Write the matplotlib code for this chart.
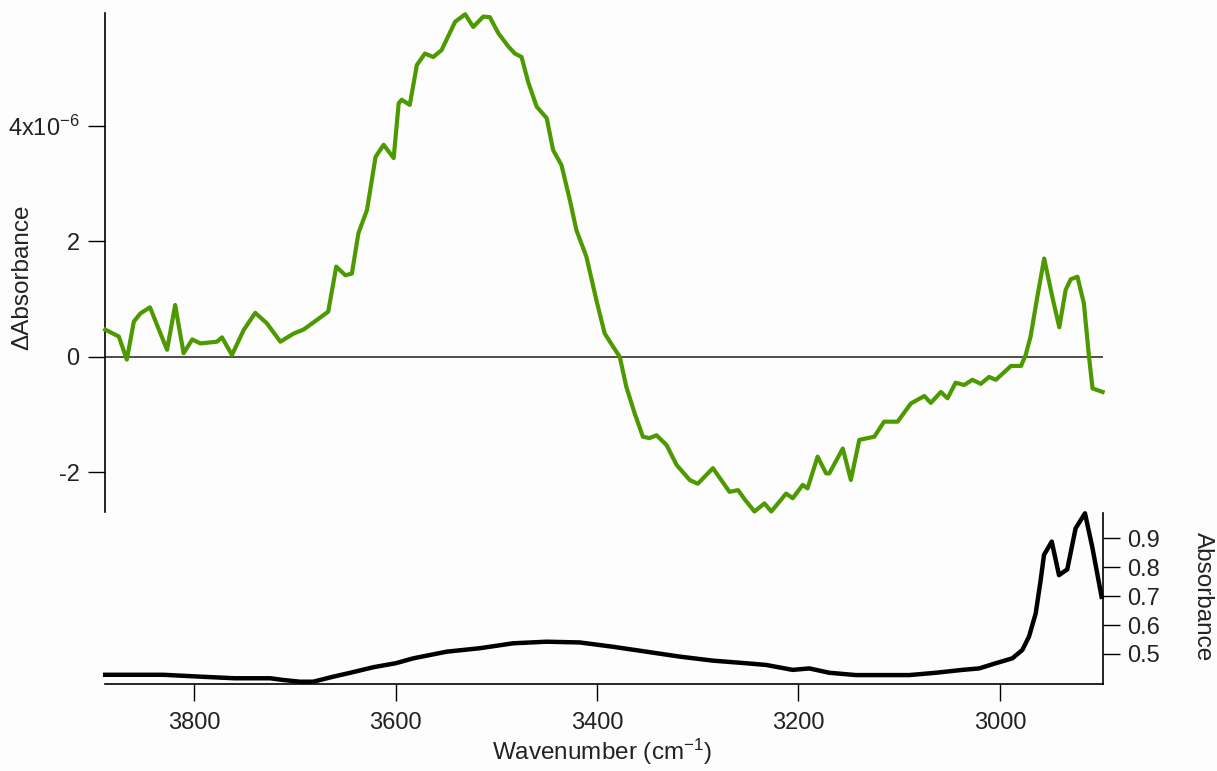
import numpy as np
import matplotlib
matplotlib.use("Agg")
import matplotlib.pyplot as plt
from matplotlib.ticker import FixedLocator, FixedFormatter

plt.rcParams['font.family'] = ['Liberation Sans', 'DejaVu Sans']
plt.rcParams['mathtext.fontset'] = 'custom'
plt.rcParams['mathtext.rm'] = 'Liberation Sans'
plt.rcParams['mathtext.default'] = 'regular'

# difference spectrum (top), values in units of 1e-6
wn_diff = [3888.5, 3875, 3867, 3860, 3853.5, 3844, 3837, 3827, 3819, 3810.6,
           3802, 3794, 3777.5, 3772.5, 3762.6, 3751, 3739.5, 3728, 3714.5, 3701.5,
           3691.5, 3678, 3667, 3659, 3650, 3643.5, 3637, 3628.5, 3620, 3612,
           3602, 3597, 3594, 3586, 3579, 3571, 3562.7, 3554.4, 3541, 3531,
           3523, 3513, 3506.5, 3498, 3488, 3481.7, 3475, 3468.5, 3460, 3450,
           3443.7, 3435.4, 3427, 3420.5, 3410.6, 3400.7, 3392.5, 3384, 3377.5, 3371,
           3362.7, 3354.5, 3348, 3341, 3331, 3321, 3308, 3300, 3285, 3268.5,
           3260, 3253, 3243.7, 3233.8, 3227, 3212.3, 3205.7, 3195.8, 3191, 3181,
           3172.6, 3169.4, 3156, 3148, 3139.6, 3124.7, 3115, 3101.6, 3088.4, 3075,
           3068.6, 3058.6, 3052, 3044, 3035.5, 3027.3, 3019, 3010.7, 3004, 2989,
           2979, 2974.4, 2969.5, 2962.8, 2956, 2948, 2941, 2934.7, 2929.7, 2923,
           2916.6, 2911.5, 2908, 2898]
d_abs = [0.47, 0.35, -0.05, 0.61, 0.75, 0.855, 0.55, 0.12, 0.895, 0.06,
         0.30, 0.23, 0.26, 0.335, 0.03, 0.46, 0.76, 0.58, 0.26, 0.40,
         0.47, 0.64, 0.78, 1.56, 1.41, 1.44, 2.14, 2.54, 3.46, 3.67,
         3.44, 4.39, 4.45, 4.36, 5.05, 5.25, 5.19, 5.31, 5.80, 5.93,
         5.71, 5.89, 5.88, 5.60, 5.37, 5.25, 5.19, 4.76, 4.33, 4.13,
         3.58, 3.32, 2.71, 2.19, 1.73, 0.98, 0.405, 0.17, 0.0, -0.52,
         -0.98, -1.385, -1.41, -1.36, -1.53, -1.875, -2.135, -2.20, -1.93, -2.34,
         -2.31, -2.48, -2.68, -2.54, -2.68, -2.37, -2.45, -2.22, -2.28, -1.73,
         -2.02, -2.02, -1.59, -2.135, -1.44, -1.385, -1.125, -1.125, -0.81, -0.68,
         -0.80, -0.61, -0.72, -0.45, -0.49, -0.40, -0.47, -0.35, -0.40, -0.16,
         -0.16, 0.03, 0.35, 1.04, 1.70, 1.04, 0.51, 1.155, 1.34, 1.385,
         0.925, 0.0, -0.55, -0.61]

# absorbance spectrum (bottom)
wn_abs = [3888.5, 3830.7, 3794, 3760, 3724.6, 3711.7, 3695, 3682, 3662, 3645,
          3622.5, 3600, 3582.5, 3549.4, 3516.4, 3483.4, 3450.3, 3417.3, 3384.2, 3351.1,
          3318.1, 3285.1, 3252, 3232, 3205.8, 3189.2, 3169.4, 3142.9, 3090, 3063.6,
          3037.2, 3020.6, 3004.1, 2987.6, 2977.7, 2971.1, 2964.4, 2959.5, 2956.2, 2948.5,
          2941.3, 2933.1, 2924.8, 2915.5, 2908.3, 2899]
absorb = [0.428, 0.428, 0.4215, 0.416, 0.416, 0.410, 0.404, 0.404, 0.4215, 0.435,
          0.454, 0.468, 0.485, 0.508, 0.520, 0.537, 0.5425, 0.540, 0.525, 0.508,
          0.491, 0.477, 0.468, 0.462, 0.445, 0.450, 0.435, 0.427, 0.427, 0.435,
          0.445, 0.450, 0.468, 0.485, 0.514, 0.56, 0.641, 0.756, 0.843, 0.889,
          0.773, 0.793, 0.935, 0.987, 0.871, 0.698]

x_ticks = [3800, 3600, 3400, 3200, 3000]
top_ticks = [-2, 0, 2, 4]
top_labels = ['-2', '0', '2', '4x10$^{-6}$']
bot_ticks = [0.5, 0.6, 0.7, 0.8, 0.9]

fig = plt.figure(figsize=(12.17, 7.71), dpi=100)
fig.patch.set_facecolor('#fdfdfd')

ax1 = fig.add_axes([0.086, 0.3363, 0.820, 0.6464])
ax2 = fig.add_axes([0.086, 0.1128, 0.820, 0.2218])
for ax in (ax1, ax2):
    ax.set_facecolor('none')
    ax.set_xlim(3889, 2898)
    ax.tick_params(direction='out', length=12, width=1, labelsize=17, pad=6,
                   labelcolor='#222222')

# top panel
ax1.axhline(0, color='#404040', lw=1.3, zorder=1)
ax1.plot(np.array(wn_diff), np.array(d_abs) * 1e-6, color='#4d9900', lw=3,
         clip_on=False, zorder=3)
ax1.set_ylim(-2.684e-6, 5.946e-6)
ax1.yaxis.set_major_locator(FixedLocator([t * 1e-6 for t in top_ticks]))
ax1.yaxis.set_major_formatter(FixedFormatter(top_labels))
for s in ('top', 'right', 'bottom'):
    ax1.spines[s].set_visible(False)
ax1.spines['left'].set_linewidth(1.2)
ax1.set_xticks([])

# bottom panel
ax2.plot(wn_abs, absorb, color='black', lw=3.2, clip_on=False)
ax2.set_ylim(0.396, 0.988)
ax2.set_yticks(bot_ticks)
ax2.set_yticklabels([f'{t:.1f}' for t in bot_ticks])
ax2.yaxis.tick_right()
ax2.spines['top'].set_visible(False)
ax2.spines['left'].set_visible(False)
ax2.spines['right'].set_linewidth(1.2)
ax2.spines['bottom'].set_linewidth(1.2)
ax2.set_xticks(x_ticks)
ax2.tick_params(axis='x', pad=8)

fig.text(22 / 1217, 1 - 277 / 771, 'ΔAbsorbance', rotation=90, ha='center',
         va='center', fontsize=17.5, color='#222222')
fig.text(1203 / 1217, 1 - 597 / 771, 'Absorbance', rotation=270, ha='center',
         va='center', fontsize=17.5, color='#222222')
fig.text(602 / 1217, 1 - 752 / 771, 'Wavenumber (cm$^{-1}$)', ha='center',
         va='center', fontsize=17.5, color='#222222')

fig.savefig('out.png', dpi=100, facecolor=fig.get_facecolor())
